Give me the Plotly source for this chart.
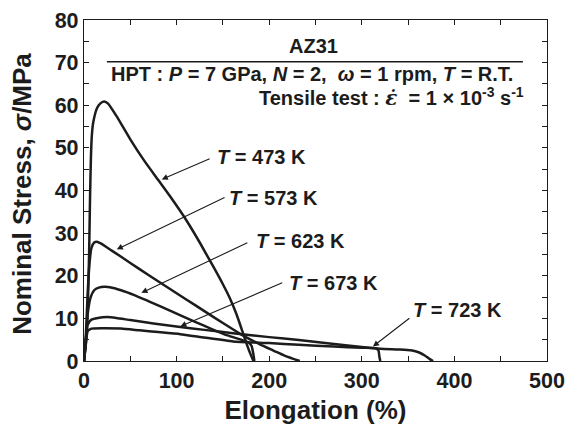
import plotly.graph_objects as go

# Nominal stress-elongation curves of HPT-processed AZ31 (elongation in %, stress in MPa)
elong_473 = [0, 2, 4, 5.5, 6.5, 7.5, 8.5, 10, 14, 18, 22, 26, 35, 50, 65, 80, 95, 110, 125, 140, 150, 158, 165, 171, 176, 180, 183]
stress_473 = [0, 4, 12, 25, 38, 48, 53, 56, 59.3, 60.5, 60.9, 60.4, 57.5, 52, 47, 42.5, 38, 33.2, 27.8, 22, 18, 14.5, 10.8, 7, 3.8, 1.5, 0]

elong_573 = [0, 2, 4, 6, 8, 11, 14, 18, 30, 50, 70, 90, 110, 130, 150, 170, 190, 205, 216, 226, 233]
stress_573 = [0, 6, 16, 23, 26.5, 27.8, 28, 27.6, 25.9, 23, 20.1, 17.3, 14.5, 11.7, 8.9, 6.2, 3.9, 2.4, 1.3, 0.5, 0]

elong_623 = [0, 2, 4, 7, 11, 16, 22, 28, 40, 55, 70, 85, 103, 120, 138, 155, 171, 178, 181, 183, 184]
stress_623 = [0, 5, 11, 14.8, 16.6, 17.2, 17.4, 17.3, 16.6, 15.4, 14.0, 12.6, 10.8, 9.2, 7.5, 6.0, 4.9, 4.3, 3.5, 1.5, 0]

elong_673 = [0, 2, 4, 8, 15, 25, 35, 50, 75, 104, 130, 161, 200, 232, 270, 300, 320, 340, 353, 362, 368, 373, 377]
stress_673 = [0, 5, 8.5, 9.7, 10.1, 10.3, 10.1, 9.6, 8.8, 8.0, 7.3, 6.5, 5.6, 4.9, 4.0, 3.3, 2.9, 2.7, 2.5, 2.0, 1.3, 0.5, 0]

elong_723 = [0, 2, 4, 8, 20, 40, 60, 80, 104, 130, 161, 200, 232, 270, 300, 315, 318, 319, 320]
stress_723 = [0, 4, 7, 7.6, 7.7, 7.6, 7.2, 6.8, 6.3, 5.5, 4.6, 4.2, 3.8, 3.4, 3.1, 3.0, 2.5, 1.0, 0]

curves = [
    (elong_473, stress_473),
    (elong_573, stress_573),
    (elong_623, stress_623),
    (elong_673, stress_673),
    (elong_723, stress_723),
]

# Temperature labels: text, label anchor (x, y), arrow head (x, y), arrow tail (x, y)
labels = ["473", "573", "623", "673", "723"]
label_x = [141.5, 154.5, 183.5, 219, 353]
label_y = [47.9, 38.2, 28.2, 18.3, 12.0]
head_x = [84, 35.4, 62, 104, 312]
head_y = [42.6, 26.2, 16.0, 8.1, 3.4]
tail_x = [137.3, 153.4, 178, 215.7, 353]
tail_y = [47.6, 38.5, 27.9, 18.5, 10.3]

x_ticks = [0, 100, 200, 300, 400, 500]
y_ticks = [0, 10, 20, 30, 40, 50, 60, 70, 80]

FONT = "Liberation Sans, Arial, sans-serif"
INK = "#1c1c1c"

fig = go.Figure()
for ex, sy in curves:
    fig.add_trace(go.Scatter(
        x=ex, y=sy, mode="lines",
        line=dict(color=INK, width=2.5, shape="spline", smoothing=0.5),
        showlegend=False, hoverinfo="skip",
    ))

annotations = []
for t, lx, ly, hx, hy, tx, ty in zip(labels, label_x, label_y, head_x, head_y, tail_x, tail_y):
    annotations.append(dict(
        x=hx, y=hy, ax=tx, ay=ty, xref="x", yref="y", axref="x", ayref="y",
        text="", showarrow=True, arrowhead=2, arrowsize=1.1, arrowwidth=1.1,
        arrowcolor=INK, standoff=0, startstandoff=0,
    ))
    annotations.append(dict(
        x=lx, y=ly, xref="x", yref="y", xanchor="left", yanchor="middle",
        text=f"<b><i>T</i> = {t} K</b>", showarrow=False,
        font=dict(family=FONT, size=20, color=INK),
    ))

# Header block
annotations.append(dict(
    x=248, y=74.0, xref="x", yref="y", xanchor="center", yanchor="middle",
    text="<b>AZ31</b>", showarrow=False, font=dict(family=FONT, size=20, color=INK),
))
annotations.append(dict(
    x=246, y=67.4, xref="x", yref="y", xanchor="center", yanchor="middle",
    text="<b>HPT : <i>P</i> = 7 GPa, <i>N</i> = 2,  <i>ω</i> = 1 rpm, <i>T</i> = R.T.</b>",
    showarrow=False, font=dict(family=FONT, size=20, color=INK),
))
annotations.append(dict(
    x=477, y=62.0, xref="x", yref="y", xanchor="right", yanchor="middle",
    text=("<b>Tensile test : <span style=\"font-family:'DejaVu Serif'\"><i>ε̇</i></span>"
          "  = 1 × 10<sup>-3</sup> s<sup>-1</sup></b>"),
    showarrow=False, font=dict(family=FONT, size=20, color=INK),
))

# Vertical axis title, placed as rotated text left of the tick labels
annotations.append(dict(
    x=-0.134, y=0.49, xref="paper", yref="paper", xanchor="center", yanchor="middle",
    text="<b>Nominal Stress, <i>σ</i>/MPa</b>", textangle=-90, showarrow=False,
    font=dict(family=FONT, size=26, color=INK),
))

fig.add_shape(type="line", x0=24.7, x1=474, y0=70.2, y1=70.2, xref="x", yref="y",
              line=dict(color=INK, width=1.3))

axis_common = dict(
    showline=True, linecolor=INK, linewidth=1.3, mirror="ticks",
    ticks="inside", ticklen=5, tickwidth=1, tickcolor=INK,
    showgrid=False, zeroline=False, ticklabeloverflow="allow",
    tickfont=dict(family=FONT, size=21.5, color=INK, weight="bold"),
)

fig.update_xaxes(
    range=[0, 500], tickvals=x_ticks,
    minor=dict(dtick=50, ticks="inside", ticklen=5, tickcolor=INK),
    title=dict(text="Elongation (%)", font=dict(family=FONT, size=26, color=INK, weight="bold"), standoff=8),
    **axis_common,
)
fig.update_yaxes(
    range=[0, 80], tickvals=y_ticks,
    minor=dict(dtick=5, ticks="inside", ticklen=5, tickcolor=INK),
    **axis_common,
)

fig.update_layout(
    width=565, height=428,
    margin=dict(l=84, r=18, t=20, b=67, autoexpand=False),
    plot_bgcolor="white", paper_bgcolor="white",
    annotations=annotations,
)

fig.write_html("out.html")
